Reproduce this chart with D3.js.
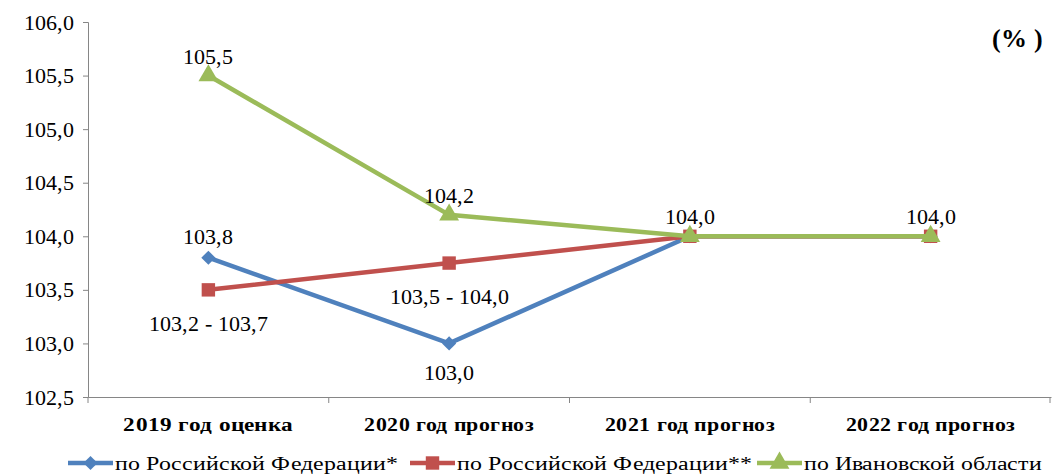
<!DOCTYPE html>
<html>
<head>
<meta charset="utf-8">
<script src="https://cdn.jsdelivr.net/npm/d3@7"></script>
<style>
  @font-face { font-family: "ChartSerif"; src: local("Liberation Serif"), local("LiberationSerif"); font-weight: normal; }
  @font-face { font-family: "ChartSerif"; src: local("Liberation Serif Bold"), local("LiberationSerif-Bold"); font-weight: bold; }
</style>
</head>
<body style="margin:0">
<script>
const categories = ['2019 год оценка', '2020 год прогноз', '2021 год прогноз', '2022 год прогноз'];
const rfValues = [103.8, 103.0, 104.0, 104.0];
const rfRangeValues = [103.5, 103.75, 104.0, 104.0];
const ivanovoValues = [105.5, 104.2, 104.0, 104.0];
const rfLabelsAbove = ['103,8', '', '', ''];
const rfLabelsBelow = ['', '103,0', '', ''];
const rfRangeLabels = ['103,2 - 103,7', '103,5 - 104,0', '', ''];
const ivanovoLabels = ['105,5', '104,2', '104,0', '104,0'];
const yTicks = [102.5, 103, 103.5, 104, 104.5, 105, 105.5, 106];

const width = 1053, height = 475;
const margin = {top: 22, right: 2, bottom: 78, left: 88};

const svg = d3.select('body')
  .append('svg')
    .attr('width', width)
    .attr('height', height);

const x = d3.scaleBand()
  .domain(categories)
  .range([margin.left, width - margin.right]);

const y = d3.scaleLinear()
  .domain([102.5, 106])
  .range([height - margin.bottom, margin.top]);

const fmt = d => d.toFixed(1).replace('.', ',');

// axes
const yAxis = svg.append('g')
  .attr('transform', `translate(${margin.left},0)`)
  .call(d3.axisLeft(y).tickValues(yTicks).tickFormat(fmt).tickSize(5).tickPadding(9));
yAxis.selectAll('text').attr('font-size', 22).attr('fill', '#000');

const xAxis = svg.append('g')
  .attr('transform', `translate(0,${height - margin.bottom})`)
  .call(d3.axisBottom(x).tickSize(0).tickPadding(21));
xAxis.selectAll('text').attr('font-size', 19).attr('font-weight', 'bold').attr('fill', '#000')
  .attr('textLength', 170).attr('lengthAdjust', 'spacingAndGlyphs');

// category separators
const sepX = x.domain().map(d => x(d)).concat([x.range()[1] - 1]);
svg.append('g').selectAll('line')
  .data(sepX)
  .join('line')
    .attr('x1', d => d).attr('x2', d => d)
    .attr('y1', height - margin.bottom)
    .attr('y2', height - margin.bottom + 6)
    .attr('stroke', '#868686');

svg.selectAll('.domain, .tick line').attr('stroke', '#868686');

const cx = d => x(d) + x.bandwidth() / 2;

const series = [
  {values: rfValues, color: '#4F81BD', symbol: d3.symbolSquare, size: 100, rotate: 45, name: 'по Российской Федерации*'},
  {values: rfRangeValues, color: '#C0504D', symbol: d3.symbolSquare, size: 180, rotate: 0, name: 'по Российской Федерации**'},
  {values: ivanovoValues, color: '#9BBB59', symbol: d3.symbolTriangle, size: 170, rotate: 0, name: 'по Ивановской области'}
];

const line = d3.line()
  .x((d, i) => cx(categories[i]))
  .y(d => y(d));

series.forEach(s => {
  svg.append('path')
    .datum(s.values)
    .attr('d', line)
    .attr('fill', 'none')
    .attr('stroke', s.color)
    .attr('stroke-width', 4.5);
  svg.append('g').selectAll('path')
    .data(s.values)
    .join('path')
      .attr('transform', (d, i) => `translate(${cx(categories[i])},${y(d)}) rotate(${s.rotate})`)
      .attr('d', d3.symbol().type(s.symbol).size(s.size))
      .attr('fill', s.color);
});

// data labels
function addLabels(values, labels, dy) {
  svg.append('g').selectAll('text')
    .data(values)
    .join('text')
      .attr('x', (d, i) => cx(categories[i]))
      .attr('y', d => y(d) + dy)
      .attr('text-anchor', 'middle')
      .attr('font-size', 22)
      .text((d, i) => labels[i]);
}
addLabels(rfValues, rfLabelsAbove, -14);
addLabels(rfValues, rfLabelsBelow, 37);
addLabels(rfRangeValues, rfRangeLabels, 41);
addLabels(ivanovoValues, ivanovoLabels, -12);

// unit
svg.append('text')
  .attr('x', 1043)
  .attr('y', 47)
  .attr('text-anchor', 'end')
  .attr('font-size', 26)
  .attr('font-weight', 'bold')
  .text('(% )');

// legend
const legendX = [68, 410, 757];
const legendW = [283, 295, 238];
const legend = svg.append('g').selectAll('g')
  .data(series)
  .join('g')
    .attr('transform', (d, i) => `translate(${legendX[i]},463)`);
legend.append('line')
  .attr('x1', 0).attr('x2', 45)
  .attr('stroke', d => d.color)
  .attr('stroke-width', 4.5);
legend.append('path')
  .attr('transform', d => `translate(22.5,0) rotate(${d.rotate})`)
  .attr('d', d => d3.symbol().type(d.symbol).size(d.size)())
  .attr('fill', d => d.color);
legend.append('text')
  .attr('x', 47)
  .attr('y', 7)
  .attr('font-size', 20)
  .attr('textLength', (d, i) => legendW[i])
  .attr('lengthAdjust', 'spacingAndGlyphs')
  .text(d => d.name);

svg.selectAll('text').each(function() {
  this.style.setProperty('font-family', 'ChartSerif, "Liberation Serif", serif', 'important');
});
</script>
</body>
</html>
